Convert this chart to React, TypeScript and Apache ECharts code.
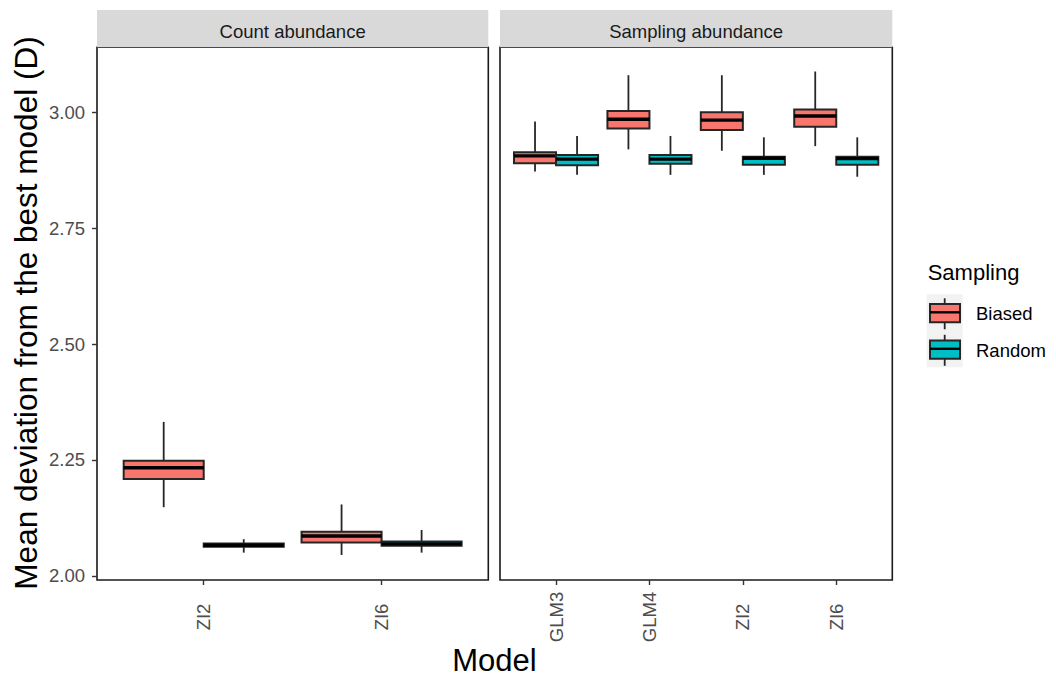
import React, { useEffect, useRef } from "react";
import * as echarts from "echarts";

// ---- data ----
const countCategories = ["ZI2", "ZI6"];
const samplingCategories = ["GLM3", "GLM4", "ZI2", "ZI6"];
const groups = ["Biased", "Random"];
const groupColors = ["#F8766D", "#00BFC4"];
// [xIndex, lowerWhisker, q1, median, q3, upperWhisker]
const countBiased = [
  [1, 2.148, 2.209, 2.233, 2.248, 2.332],
  [2, 2.045, 2.072, 2.086, 2.095, 2.154],
];
const countRandom = [
  [1, 2.05, 2.063, 2.066, 2.07, 2.079],
  [2, 2.05, 2.065, 2.069, 2.074, 2.099],
];
const samplingBiased = [
  [1, 2.872, 2.89, 2.906, 2.914, 2.98],
  [2, 2.92, 2.965, 2.985, 3.003, 3.08],
  [3, 2.917, 2.962, 2.983, 3.0, 3.08],
  [4, 2.927, 2.969, 2.992, 3.006, 3.088],
];
const samplingRandom = [
  [1, 2.865, 2.886, 2.899, 2.908, 2.949],
  [2, 2.865, 2.889, 2.899, 2.908, 2.949],
  [3, 2.865, 2.887, 2.901, 2.904, 2.946],
  [4, 2.861, 2.887, 2.9, 2.904, 2.946],
];
const yTicks = [2.0, 2.25, 2.5, 2.75, 3.0];
const facetTitles = ["Count abundance", "Sampling abundance"];

const FONT = "'Liberation Sans', Arial, sans-serif";
const HALF = 0.225;
const EDGE = "#262626";

function boxRenderer(offset: number, color: string) {
  return (params: any, api: any) => {
    const x = api.value(0) + offset;
    const lo = api.value(1);
    const q1 = api.value(2);
    const med = api.value(3);
    const q3 = api.value(4);
    const hi = api.value(5);
    const tl = api.coord([x - HALF, q3]);
    const br = api.coord([x + HALF, q1]);
    const top = api.coord([x, hi]);
    const bot = api.coord([x, lo]);
    const ml = api.coord([x - HALF, med]);
    const mr = api.coord([x + HALF, med]);
    const lineStyle = { stroke: EDGE, lineWidth: 1.8 };
    return {
      type: "group",
      children: [
        { type: "line", shape: { x1: top[0], y1: top[1], x2: top[0], y2: tl[1] }, style: lineStyle },
        { type: "line", shape: { x1: bot[0], y1: br[1], x2: bot[0], y2: bot[1] }, style: lineStyle },
        {
          type: "rect",
          shape: { x: tl[0], y: tl[1], width: br[0] - tl[0], height: br[1] - tl[1] },
          style: { fill: color, stroke: EDGE, lineWidth: 2 },
        },
        { type: "line", shape: { x1: ml[0], y1: ml[1], x2: mr[0], y2: mr[1] }, style: { stroke: "#000000", lineWidth: 3.4 } },
      ],
    };
  };
}

function makeSeries(data: number[][], gridIdx: number, g: number) {
  return {
    type: "custom",
    name: groups[g],
    xAxisIndex: gridIdx,
    yAxisIndex: gridIdx,
    data,
    encode: { x: 0, y: [1, 2, 3, 4, 5] },
    renderItem: boxRenderer(g === 0 ? -HALF : HALF, groupColors[g]),
    clip: false,
  };
}

const panels = [
  { left: 97, width: 391.3 },
  { left: 500, width: 392.3 },
];
const TOP = 47.3;
const BOTTOM = 580;

function legendKey(y0: number, color: string) {
  const cx = 944.7;
  return [
    { type: "rect", shape: { x: 926.7, y: y0, width: 36, height: 36.5 }, style: { fill: "#f2f2f2" } },
    { type: "line", shape: { x1: cx, y1: y0 + 4, x2: cx, y2: y0 + 35 }, style: { stroke: EDGE, lineWidth: 1.8 } },
    { type: "rect", shape: { x: 930, y: y0 + 9.7, width: 30, height: 18.3 }, style: { fill: color, stroke: EDGE, lineWidth: 2 } },
    { type: "line", shape: { x1: 930, y1: y0 + 18, x2: 960, y2: y0 + 18 }, style: { stroke: "#000000", lineWidth: 2.4 } },
  ];
}

export default function App() {
  const ref = useRef<HTMLDivElement>(null);
  useEffect(() => {
    if (!ref.current) return;
    const chart = echarts.init(ref.current, null, { renderer: "svg" });
    const cats = [countCategories, samplingCategories];
    const option: any = {
      animation: false,
      backgroundColor: "#ffffff",
      grid: panels.map((p) => ({
        left: p.left,
        top: TOP,
        width: p.width,
        height: BOTTOM - TOP,
        show: true,
        borderColor: "#1a1a1a",
        borderWidth: 1.6,
        backgroundColor: "transparent",
      })),
      xAxis: cats.map((c, i) => ({
        type: "value",
        gridIndex: i,
        min: 0.4,
        max: c.length + 0.6,
        splitLine: { show: false },
        axisLine: { show: false },
        axisTick: {
          show: true,
          length: 5,
          customValues: c.map((_, k) => k + 1),
          lineStyle: { color: "#333333", width: 1.4 },
        },
        axisLabel: {
          show: true,
          customValues: c.map((_, k) => k + 1),
          formatter: (v: number) => c[Math.round(v) - 1] ?? "",
          rotate: 90,
          align: "center",
          verticalAlign: "middle",
          margin: 37,
          fontSize: 18.5,
          color: "#4d4d4d",
          fontFamily: FONT,
        },
      })),
      yAxis: [0, 1].map((i) => ({
        type: "value",
        gridIndex: i,
        min: 1.991,
        max: 3.1402,
        splitLine: { show: false },
        axisLine: { show: false },
        axisTick: {
          show: i === 0,
          length: 5,
          customValues: yTicks,
          lineStyle: { color: "#333333", width: 1.4 },
        },
        axisLabel: {
          show: i === 0,
          customValues: yTicks,
          formatter: (v: number) => v.toFixed(2),
          margin: 12,
          fontSize: 18.5,
          color: "#4d4d4d",
          fontFamily: FONT,
        },
      })),
      series: [
        makeSeries(countBiased, 0, 0),
        makeSeries(countRandom, 0, 1),
        makeSeries(samplingBiased, 1, 0),
        makeSeries(samplingRandom, 1, 1),
      ],
      graphic: [
        ...panels.flatMap((p, i) => [
          { type: "rect", shape: { x: p.left, y: 10, width: p.width, height: TOP - 10 }, style: { fill: "#d9d9d9" } },
          {
            type: "text",
            x: p.left + p.width / 2,
            y: 31,
            style: { text: facetTitles[i], fill: "#1a1a1a", fontSize: 18.5, fontFamily: FONT, align: "center", verticalAlign: "middle" },
          },
        ]),
        {
          type: "text",
          x: 494.5,
          y: 660.5,
          style: { text: "Model", fill: "#000000", fontSize: 31, fontFamily: FONT, align: "center", verticalAlign: "middle" },
        },
        {
          type: "text",
          x: 25.5,
          y: 313,
          rotation: Math.PI / 2,
          style: {
            text: "Mean deviation from the best model (D)",
            fill: "#000000",
            fontSize: 31.5,
            fontFamily: FONT,
            align: "center",
            verticalAlign: "middle",
          },
        },
        {
          type: "text",
          x: 927.7,
          y: 272.5,
          style: { text: "Sampling", fill: "#000000", fontSize: 22, fontFamily: FONT, align: "left", verticalAlign: "middle" },
        },
        ...legendKey(294.3, groupColors[0]),
        ...legendKey(330.8, groupColors[1]),
        {
          type: "text",
          x: 976,
          y: 313.5,
          style: { text: groups[0], fill: "#000000", fontSize: 18.5, fontFamily: FONT, align: "left", verticalAlign: "middle" },
        },
        {
          type: "text",
          x: 976,
          y: 350,
          style: { text: groups[1], fill: "#000000", fontSize: 18.5, fontFamily: FONT, align: "left", verticalAlign: "middle" },
        },
      ],
    };
    chart.setOption(option);
    return () => chart.dispose();
  }, []);
  return <div ref={ref} style={{ position: "absolute", left: 0, top: 0, width: 1056, height: 677 }} />;
}
